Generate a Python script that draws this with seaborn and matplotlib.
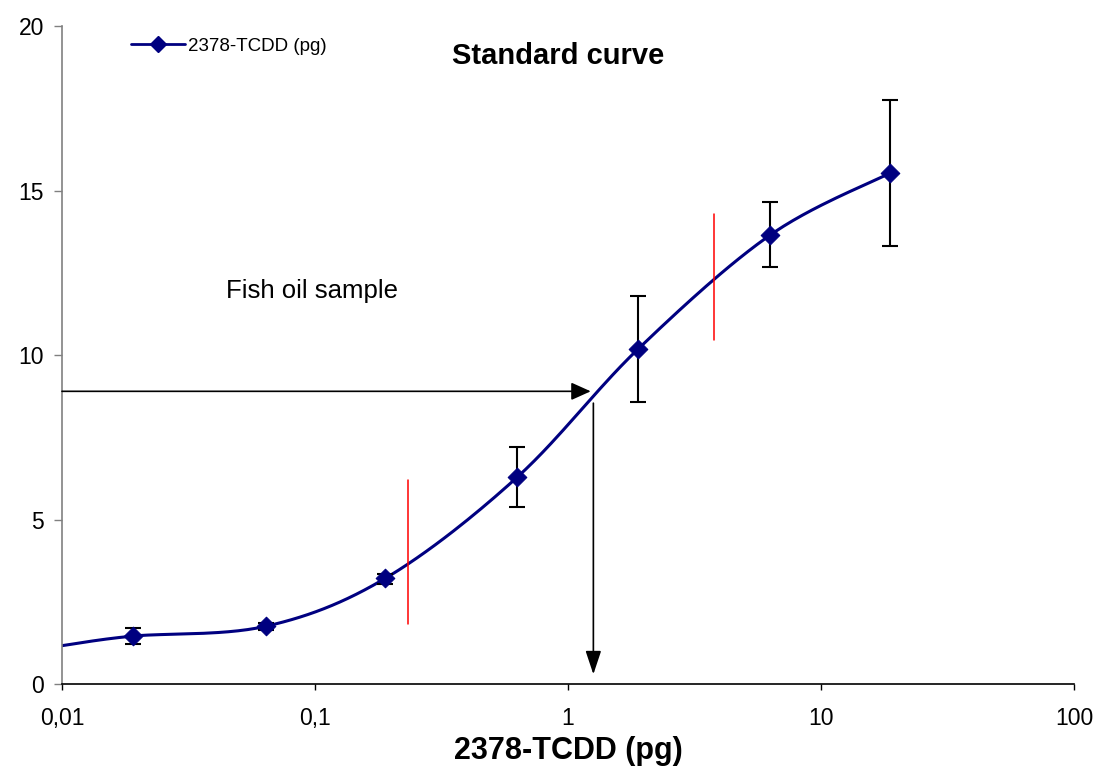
import numpy as np
import pandas as pd
import matplotlib.pyplot as plt
import seaborn as sns
from matplotlib.lines import Line2D

# data
dose = [0.019, 0.064, 0.19, 0.63, 1.89, 6.3, 18.7]
signal = [1.46, 1.76, 3.22, 6.29, 10.18, 13.65, 15.53]
err_low = [0.24, 0.11, 0.17, 0.92, 1.60, 0.98, 2.20]
err_high = [0.26, 0.10, 0.14, 0.93, 1.62, 1.00, 2.22]
curve_start = (0.01, 1.17)

# red marker lines (x, y from, y to)
red_x = [0.233, 3.77]
red_y0 = [1.82, 10.45]
red_y1 = [6.2, 14.3]

# sample readout
sample_y = 8.9
sample_x = 1.26

sns.set_theme(style="white")
plt.rcParams["font.family"] = ["Liberation Sans", "DejaVu Sans"]
plt.rcParams["text.color"] = "black"
plt.rcParams["axes.labelcolor"] = "black"
plt.rcParams["xtick.color"] = "black"
plt.rcParams["ytick.color"] = "black"

fig = plt.figure(figsize=(10.97, 7.67), dpi=100)
ax = fig.add_axes([0.0565, 0.108, 0.9225, 0.858])


def smooth(xs, ys, n=30):
    # Excel-style smoothed line: Catmull-Rom in log-x space
    lx = np.log10(xs)
    P = np.column_stack([lx, ys])
    P = np.vstack([P[0], P, P[-1]])
    out = []
    for i in range(1, len(P) - 2):
        p0, p1, p2, p3 = P[i - 1], P[i], P[i + 1], P[i + 2]
        t = np.linspace(0, 1, n)[:, None]
        seg = 0.5 * ((2 * p1) + (-p0 + p2) * t + (2 * p0 - 5 * p1 + 4 * p2 - p3) * t ** 2
                     + (-p0 + 3 * p1 - 3 * p2 + p3) * t ** 3)
        out.append(seg)
    out = np.vstack(out)
    return 10 ** out[:, 0], out[:, 1]


cx, cy = smooth([curve_start[0]] + dose, [curve_start[1]] + signal)
curve = pd.DataFrame({"x": cx, "y": cy})
sns.lineplot(data=curve, x="x", y="y", sort=False, color="#000080", lw=2.2, ax=ax)

ax.errorbar(dose, signal, yerr=[err_low, err_high], fmt="none", ecolor="black",
            elinewidth=1.5, capsize=5.8, capthick=1.5, zorder=3)

pts = pd.DataFrame({"dose": dose, "signal": signal})
sns.scatterplot(data=pts, x="dose", y="signal", marker="D", s=90, color="#000080",
                edgecolor="#000080", zorder=4, ax=ax)

for x, a, b in zip(red_x, red_y0, red_y1):
    ax.plot([x, x], [a, b], color="red", lw=1.1)

# arrows
ax.annotate("", xy=(1.23, sample_y), xytext=(0.01, sample_y),
            arrowprops=dict(arrowstyle="-|>,head_length=1.0,head_width=0.45",
                            color="black", lw=1.2, shrinkA=0, shrinkB=0))
ax.annotate("", xy=(sample_x, 0.3), xytext=(sample_x, 8.54),
            arrowprops=dict(arrowstyle="-|>,head_length=1.2,head_width=0.4",
                            color="black", lw=1.2, shrinkA=0, shrinkB=0))

ax.text(0.0445, 11.73, "Fish oil sample", fontsize=18.5, va="baseline", ha="left")
ax.text(0.49, 19.1, "Standard curve", fontsize=21, fontweight="bold",
        transform=ax.get_yaxis_transform(), ha="center", va="center")

ax.set_xscale("log")
ax.set_xlim(0.01, 100)
ax.set_ylim(0, 20)
ax.set_xticks([0.01, 0.1, 1, 10, 100])
ax.set_xticklabels(["0,01", "0,1", "1", "10", "100"])
ax.xaxis.set_minor_locator(plt.NullLocator())
ax.set_yticks([0, 5, 10, 15, 20])
ax.tick_params(axis="x", which="major", direction="out", length=4.5, width=1,
               labelsize=16.5, pad=12, bottom=True)
ax.tick_params(axis="y", which="major", direction="out", length=6, width=1,
               labelsize=16.5, pad=7, left=True, color="#808080")
ax.set_xlabel("2378-TCDD (pg)", fontsize=22, fontweight="bold", labelpad=4)
ax.set_ylabel("")

for s in ["top", "right"]:
    ax.spines[s].set_visible(False)
ax.spines["bottom"].set_color("black")
ax.spines["left"].set_color("#808080")
for s in ["left", "bottom"]:
    ax.spines[s].set_linewidth(1.2)

handle = Line2D([], [], color="#000080", lw=2, marker="D", markersize=8)
ax.legend([handle], ["2378-TCDD (pg)"], loc="center left", bbox_to_anchor=(0.068, 0.9696),
          frameon=False, fontsize=13.5, handlelength=2.9, handletextpad=0.15,
          borderpad=0, borderaxespad=0)

fig.savefig("out.png", dpi=100)
